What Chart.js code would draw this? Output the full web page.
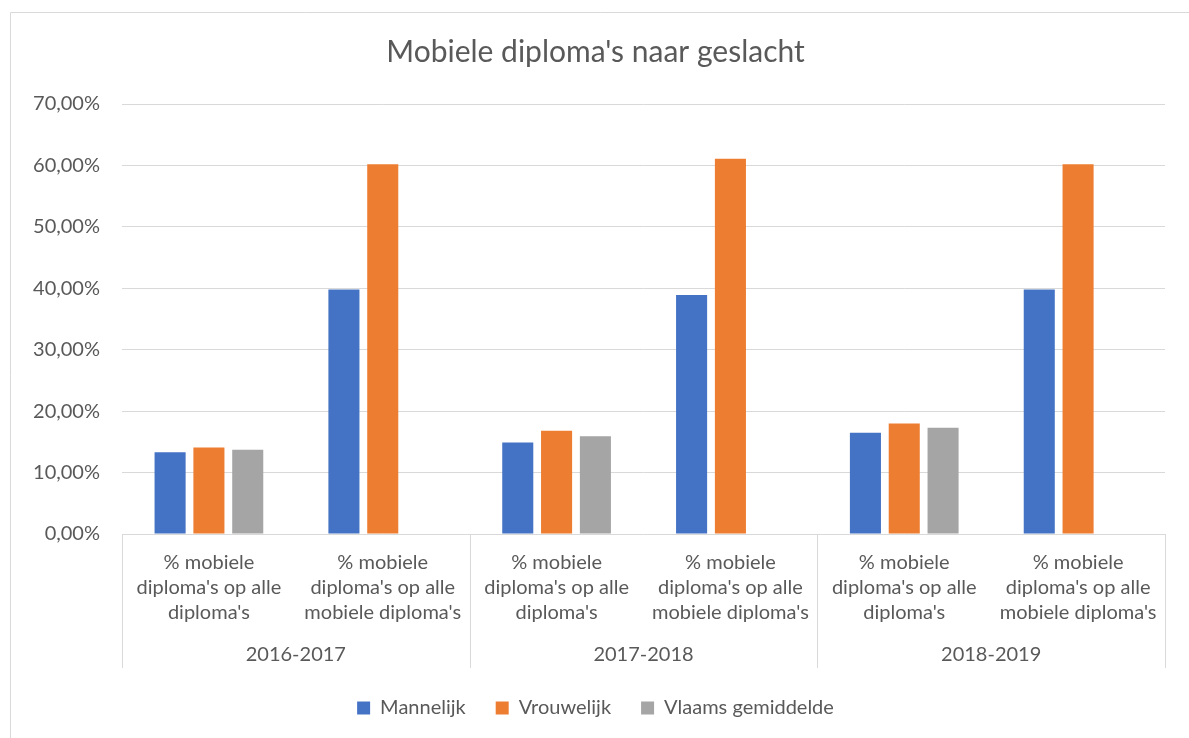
<!DOCTYPE html>
<html>
<head>
<meta charset="utf-8">
<script src="https://cdn.jsdelivr.net/npm/chart.js@4/dist/chart.umd.min.js"></script>
<style>
  html, body { margin: 0; padding: 0; background: #ffffff; }
  #wrap { position: relative; width: 1189px; height: 738px; }
</style>
</head>
<body>
<div id="wrap"><canvas id="c" width="1189" height="738"></canvas></div>
<script>
const title = "Mobiele diploma's naar geslacht";
const subCategories = [
  ["% mobiele", "diploma's op alle", "diploma's"],
  ["% mobiele", "diploma's op alle", "mobiele diploma's"],
  ["% mobiele", "diploma's op alle", "diploma's"],
  ["% mobiele", "diploma's op alle", "mobiele diploma's"],
  ["% mobiele", "diploma's op alle", "diploma's"],
  ["% mobiele", "diploma's op alle", "mobiele diploma's"]
];
const years = ["2016-2017", "2017-2018", "2018-2019"];
const seriesNames = ["Mannelijk", "Vrouwelijk", "Vlaams gemiddelde"];
const mannelijk = [13.3, 39.8, 14.9, 38.9, 16.5, 39.8];
const vrouwelijk = [14.1, 60.2, 16.8, 61.1, 18.0, 60.2];
const vlaamsGemiddelde = [13.7, null, 15.9, null, 17.3, null];
const yTicks = [0, 10, 20, 30, 40, 50, 60, 70];

const colors = ["#4472C4", "#ED7D31", "#A5A5A5"];
const textColor = "#595959";
const gridColor = "#D9D9D9";
const FONT = "Lato, 'Open Sans', sans-serif";

const decorPlugin = {
  id: 'decor',
  beforeDraw(chart) {
    const ctx = chart.ctx;
    ctx.save();
    ctx.strokeStyle = gridColor;
    ctx.lineWidth = 1;
    ctx.beginPath();
    ctx.moveTo(10.5, chart.height + 5);
    ctx.lineTo(10.5, 12.5);
    ctx.lineTo(chart.width + 5, 12.5);
    ctx.stroke();
    ctx.restore();
  },
  afterDraw(chart) {
    const x2 = chart.scales.x2;
    const ctx = chart.ctx;
    const step = x2.getPixelForValue(1) - x2.getPixelForValue(0);
    ctx.save();
    ctx.strokeStyle = gridColor;
    ctx.lineWidth = 1;
    ctx.beginPath();
    for (let k = 0; k <= years.length; k++) {
      const px = Math.round(x2.getPixelForValue(0) - step / 2 + k * step) + 0.5;
      ctx.moveTo(px, chart.chartArea.bottom);
      ctx.lineTo(px, x2.bottom);
    }
    ctx.stroke();
    ctx.restore();
  }
};

new Chart(document.getElementById('c'), {
  type: 'bar',
  data: {
    labels: subCategories,
    datasets: [
      { label: seriesNames[0], data: mannelijk, backgroundColor: colors[0], xAxisID: 'x', yAxisID: 'y' },
      { label: seriesNames[1], data: vrouwelijk, backgroundColor: colors[1], xAxisID: 'x', yAxisID: 'y' },
      { label: seriesNames[2], data: vlaamsGemiddelde, backgroundColor: colors[2], xAxisID: 'x', yAxisID: 'y' }
    ]
  },
  plugins: [decorPlugin],
  options: {
    responsive: false,
    animation: false,
    devicePixelRatio: 1,
    categoryPercentage: 0.67,
    barPercentage: 0.8,
    layout: { padding: { left: 26, right: 24, top: 12, bottom: 10 } },
    plugins: {
      title: {
        display: true,
        text: title,
        color: textColor,
        font: { family: FONT, size: 30, weight: 'normal', lineHeight: 1.2 },
        padding: { top: 22, bottom: 34 }
      },
      legend: {
        position: 'bottom',
        labels: {
          color: textColor,
          font: { family: FONT, size: 20 },
          boxWidth: 13,
          boxHeight: 13,
          padding: 30
        }
      },
      tooltip: { enabled: false }
    },
    scales: {
      x: {
        type: 'category',
        position: 'bottom',
        grid: { display: false, drawTicks: false },
        border: { display: false },
        ticks: {
          color: textColor,
          font: { family: FONT, size: 20, lineHeight: 1.25 },
          padding: 16,
          maxRotation: 0,
          autoSkip: false
        },
        afterFit(scale) { scale.height = 104; }
      },
      x2: {
        type: 'category',
        position: 'bottom',
        labels: years,
        offset: true,
        grid: { display: false, drawTicks: false },
        border: { display: false },
        ticks: {
          color: textColor,
          font: { family: FONT, size: 20, lineHeight: 1.2 },
          padding: 5,
          maxRotation: 0,
          autoSkip: false
        },
        afterFit(scale) { scale.height = 30; }
      },
      y: {
        min: 0,
        max: 70,
        afterBuildTicks(scale) { scale.ticks = yTicks.map(v => ({ value: v })); },
        grid: { color: gridColor, lineWidth: 1, drawTicks: false },
        border: { display: false },
        ticks: {
          color: textColor,
          font: { family: FONT, size: 20 },
          padding: 22,
          callback: v => v.toFixed(2).replace('.', ',') + '%'
        },
        afterFit(scale) { scale.width = 96; }
      }
    }
  }
});
</script>
</body>
</html>
